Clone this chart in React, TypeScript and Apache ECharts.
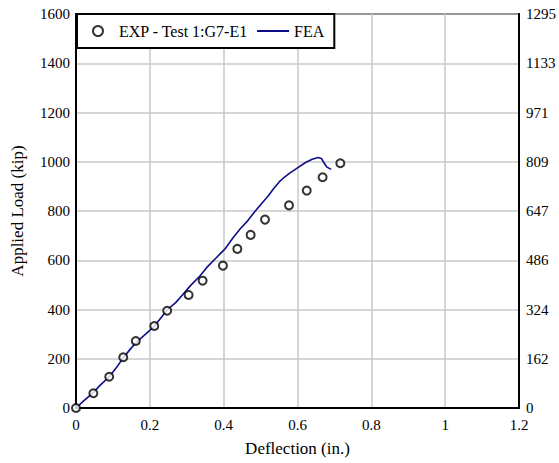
import React, { useEffect, useRef } from "react";
import * as echarts from "echarts";

const expData: [number, number][] = [
  [0, 0], [0.047, 60], [0.09, 127], [0.128, 206], [0.162, 272], [0.212, 333],
  [0.247, 395], [0.305, 459], [0.343, 517], [0.398, 578], [0.437, 646],
  [0.473, 703], [0.512, 765], [0.577, 823], [0.625, 883], [0.668, 937], [0.716, 994],
];

const feaData: [number, number][] = [
  [0, 0], [0.02, 28], [0.045, 60], [0.065, 92], [0.09, 127], [0.11, 165], [0.128, 204],
  [0.145, 235], [0.162, 265], [0.19, 302], [0.212, 332], [0.232, 370], [0.248, 400],
  [0.27, 428], [0.29, 462], [0.31, 497], [0.335, 535], [0.355, 572], [0.38, 610],
  [0.403, 645], [0.425, 690], [0.445, 728], [0.465, 760], [0.484, 797], [0.5, 825],
  [0.52, 860], [0.535, 890], [0.551, 919], [0.565, 938], [0.578, 953], [0.6, 975],
  [0.623, 998], [0.64, 1010], [0.656, 1017], [0.665, 1013], [0.672, 995], [0.68, 978],
  [0.691, 969],
];

const rightLabels = ["0", "162", "324", "486", "647", "809", "971", "1133", "1295"];

const FONT = "Liberation Serif";

export default function App() {
  const ref = useRef<HTMLDivElement>(null);
  useEffect(() => {
    if (!ref.current) return;
    const chart = echarts.init(ref.current, undefined, { renderer: "svg" });
    const label = { fontFamily: FONT, fontSize: 15, color: "#000", fontWeight: "normal" };
    const rich = { t: { fontFamily: FONT, fontSize: 15, color: "#000" } };
    chart.setOption({
      animation: false,
      textStyle: { fontFamily: FONT },
      grid: {
        left: 76, top: 14, right: 39, bottom: 55,
        show: true, borderColor: "#000", borderWidth: 2,
      },
      legend: {
        left: 77, top: 14,
        orient: "horizontal",
        data: [
          { name: "EXP - Test 1:G7-E1" },
          { name: "FEA", itemStyle: { opacity: 0 } },
        ],
        itemWidth: 32, itemHeight: 10, itemGap: 8,
        padding: [9, 10, 9, 15],
        borderColor: "#000", borderWidth: 2, backgroundColor: "#fff",
        textStyle: { ...label, fontSize: 16 },
      },
      xAxis: {
        type: "value", min: 0, max: 1.2, interval: 0.2,
        name: "Deflection (in.)", nameLocation: "middle", nameGap: 32,
        nameTextStyle: { fontFamily: FONT, fontSize: 17, color: "#000" },
        axisLine: { show: true, lineStyle: { color: "#000", width: 2 } },
        axisTick: { show: false },
        axisLabel: { ...label, margin: 9, rich, formatter: (v: number) => `{t|${String(v)}}` },
        splitLine: { show: true, lineStyle: { color: "#c8c8c8", width: 1.5 } },
      },
      yAxis: [
        {
          type: "value", min: 0, max: 1600, interval: 200,
          name: "Applied Load (kip)", nameLocation: "middle", nameGap: 50,
          nameTextStyle: { fontFamily: FONT, fontSize: 17, color: "#000" },
          axisLine: { show: true, lineStyle: { color: "#000", width: 2 } },
          axisTick: { show: false },
          axisLabel: { ...label, margin: 6, rich, formatter: (v: number) => `{t|${String(v)}}` },
          splitLine: { show: true, lineStyle: { color: "#c8c8c8", width: 1.5 } },
        },
        {
          type: "value", min: 0, max: 1600, interval: 200, position: "right",
          axisLine: { show: true, lineStyle: { color: "#000", width: 2 } },
          axisTick: { show: false },
          axisLabel: {
            ...label, margin: 7, rich,
            formatter: (v: number) => `{t|${rightLabels[Math.round(v / 200)] ?? ""}}`,
          },
          splitLine: { show: false },
        },
      ],
      series: [
        {
          name: "EXP - Test 1:G7-E1", type: "scatter", data: expData,
          symbol: "emptyCircle", symbolSize: 8,
          itemStyle: { color: "#000", borderColor: "#000", borderWidth: 2 },
          z: 3,
        },
        {
          name: "FEA", type: "line", data: feaData, symbol: "none", showSymbol: false,
          lineStyle: { color: "#0d0d8a", width: 1.6 },
          itemStyle: { color: "#0d0d8a" },
          z: 2,
        },
      ],
    });
    return () => chart.dispose();
  }, []);
  return <div ref={ref} style={{ width: 559, height: 463, position: "absolute", left: 0, top: 0 }} />;
}
